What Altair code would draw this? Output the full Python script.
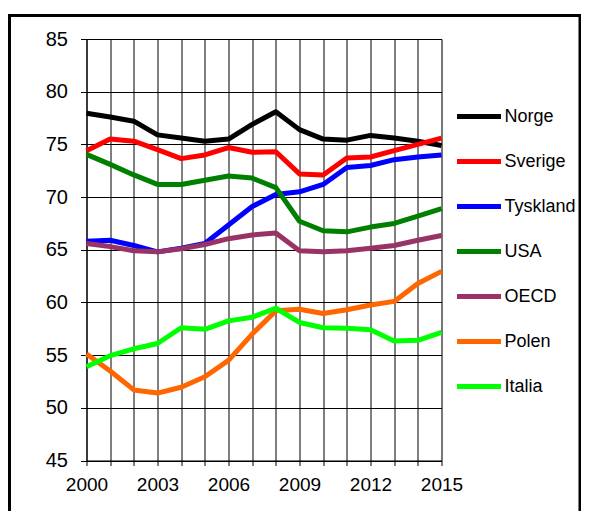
import altair as alt
import pandas as pd

years = list(range(2000, 2016))
countries = ["Norge", "Sverige", "Tyskland", "USA", "OECD", "Polen", "Italia"]
colors = ["#000000", "#FF0000", "#0000FF", "#008000", "#993366", "#FF6600", "#00FF00"]

norge = [77.95, 77.6, 77.2, 75.9, 75.6, 75.3, 75.5, 76.9, 78.1, 76.4, 75.5, 75.4, 75.85, 75.6, 75.3, 74.9]
sverige = [74.4, 75.5, 75.3, 74.5, 73.65, 74.0, 74.7, 74.25, 74.3, 72.2, 72.1, 73.7, 73.8, 74.4, 75.0, 75.6]
tyskland = [65.8, 65.9, 65.4, 64.8, 65.15, 65.6, 67.35, 69.1, 70.25, 70.5, 71.2, 72.8, 73.0, 73.55, 73.8, 74.0]
usa = [74.05, 73.1, 72.1, 71.2, 71.2, 71.6, 72.0, 71.8, 70.9, 67.7, 66.8, 66.7, 67.15, 67.5, 68.2, 68.9]
oecd = [65.6, 65.3, 64.9, 64.8, 65.1, 65.5, 66.05, 66.4, 66.6, 64.9, 64.8, 64.9, 65.15, 65.4, 65.9, 66.35]
polen = [55.1, 53.5, 51.7, 51.4, 51.95, 52.95, 54.5, 57.0, 59.2, 59.35, 58.95, 59.3, 59.75, 60.1, 61.8, 62.95]
italia = [53.9, 54.95, 55.6, 56.1, 57.6, 57.45, 58.25, 58.6, 59.45, 58.1, 57.6, 57.55, 57.4, 56.35, 56.4, 57.15]

series = [norge, sverige, tyskland, usa, oecd, polen, italia]
rows = []
for i, (c, vals) in enumerate(zip(countries, series)):
    for y, v in zip(years, vals):
        rows.append({"country": c, "year": y, "value": v, "ord": i})
df = pd.DataFrame(rows)

FONT = "Liberation Sans"

lines = alt.Chart(df).mark_line(strokeWidth=5, strokeJoin="round").encode(
    x=alt.X("year:Q",
            scale=alt.Scale(domain=[2000, 2015], nice=False, zero=False),
            axis=alt.Axis(values=years, format="d", title=None,
                          labelExpr="datum.value % 3 == 2 ? datum.label : ''",
                          grid=True, gridColor="#000000", gridOpacity=1, gridWidth=1,
                          tickColor="#000000", tickSize=5, tickWidth=1,
                          domainColor="#000000", domainWidth=1,
                          labelFont=FONT, labelFontSize=19, labelColor="#000000",
                          labelPadding=10, labelFlush=False)),
    y=alt.Y("value:Q",
            scale=alt.Scale(domain=[45, 85], nice=False, zero=False),
            axis=alt.Axis(values=[45, 50, 55, 60, 65, 70, 75, 80, 85], title=None,
                          grid=True, gridColor="#000000", gridOpacity=1, gridWidth=1,
                          tickColor="#000000", tickSize=6, tickWidth=1,
                          domainColor="#000000", domainWidth=1,
                          labelFont=FONT, labelFontSize=20, labelColor="#000000",
                          labelPadding=13)),
    color=alt.Color("country:N",
                    scale=alt.Scale(domain=countries, range=colors),
                    sort=countries,
                    legend=alt.Legend(title=None, orient="none", legendX=368, legendY=53,
                                      symbolType="stroke", symbolSize=1936,
                                      symbolStrokeWidth=5, labelFont=FONT,
                                      labelFontSize=18, labelColor="#000000",
                                      labelOffset=1, rowPadding=10)),
    order=alt.Order("ord:Q"),
    detail="country:N",
)

border = alt.Chart(alt.Data(values=[{"a": 1}])).mark_rect(
    fill="transparent", stroke="#000000", strokeWidth=3
).encode(
    x=alt.value(-77), x2=alt.value(493.5), y=alt.value(-23.5), y2=alt.value(600)
)

chart = alt.layer(border, lines).properties(
    width=355, height=421.5,
    autosize=alt.AutoSizeParams(type="none"),
    padding={"left": 78.5, "top": 31, "right": 139, "bottom": 50},
).configure_view(stroke=None).configure(background="#ffffff")

chart.save("out.html", embed_options={"renderer": "svg", "actions": False})
